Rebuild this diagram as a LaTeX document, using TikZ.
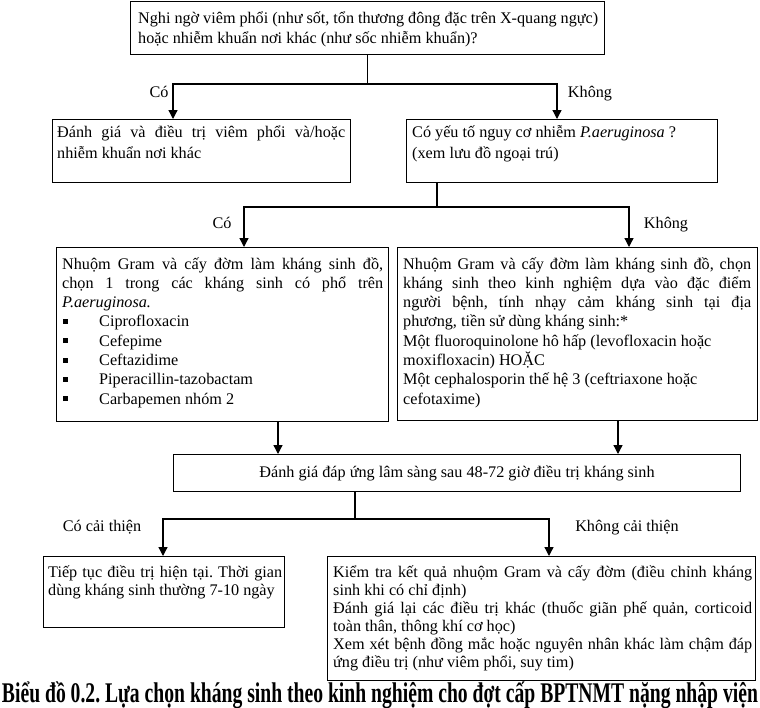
\documentclass[tikz,border=0pt]{standalone}
\usepackage{fontspec}
\setmainfont{Liberation Serif}
\usepackage{graphicx}
\usetikzlibrary{arrows.meta}
\frenchspacing
\newcommand{\jl}[1]{\makebox[\linewidth][s]{#1}}
\newcommand{\fs}[1]{\fontsize{16.2pt}{#1}\selectfont}
\newcommand{\bul}{\hspace*{1pt}\rule[3pt]{5pt}{5pt}\hspace*{31pt}}
\tikzset{
  box/.style={draw, line width=1.3pt, anchor=north west, inner sep=0pt},
  txt/.style={anchor=base west, inner sep=0pt},
  lbl/.style={anchor=base, inner sep=0pt, font=\fontsize{16.2pt}{18pt}\selectfont},
  arr/.style={line width=1.3pt, line join=miter, -{Triangle[width=9pt,length=9pt]}},
}
\begin{document}
\begin{tikzpicture}[x=1pt,y=1pt]
\fill[white] (0,0) rectangle (760,-707);
\useasboundingbox (0,0) rectangle (760,-707);

% ---------- boxes ----------
\node[box, minimum width=474pt, minimum height=53pt]  (b1) at (130,-1) {};
\node[box, minimum width=298pt, minimum height=63pt]  (l1) at (52,-119) {};
\node[box, minimum width=311pt, minimum height=63pt]  (r1) at (406,-119) {};
\node[box, minimum width=332pt, minimum height=174pt] (l2) at (56,-247) {};
\node[box, minimum width=360pt, minimum height=173pt] (r2) at (397,-247) {};
\node[box, minimum width=567pt, minimum height=37pt]  (b3) at (173,-454) {};
\node[box, minimum width=241pt, minimum height=71pt]  (l3) at (43,-556) {};
\node[box, minimum width=428pt, minimum height=124pt] (r3) at (327,-556) {};

% ---------- texts ----------
\node[txt] (t1) at (138,-23) {\parbox[t]{460pt}{\fs{20pt}%
\jl{Nghi ngờ viêm phổi (như sốt, tổn thương đông đặc trên X-quang ngực)}\\
hoặc nhiễm khuẩn nơi khác (như sốc nhiễm khuẩn)?}};

\node[txt] (tl1) at (57,-137) {\parbox[t]{288pt}{\fs{21pt}%
\jl{Đánh giá và điều trị viêm phổi và/hoặc}\\
nhiễm khuẩn nơi khác}};

\node[txt] (tr1) at (412,-137) {\parbox[t]{300pt}{\fs{21pt}%
Có yếu tố nguy cơ nhiễm \textit{P.aeruginosa} ?\\
(xem lưu đồ ngoại trú)}};

\node[txt] (tl2) at (62,-269) {\parbox[t]{321pt}{\fs{19.3pt}%
\jl{Nhuộm Gram và cấy đờm làm kháng sinh đồ,}\\
\jl{chọn 1 trong các kháng sinh có phổ trên}\\
\textit{P.aeruginosa.}\\
\bul Ciprofloxacin\\
\bul Cefepime\\
\bul Ceftazidime\\
\bul Piperacillin-tazobactam\\
\bul Carbapemen nhóm 2}};

\node[txt] (tr2) at (403,-269) {\parbox[t]{348pt}{\fs{19.3pt}%
\jl{Nhuộm Gram và cấy đờm làm kháng sinh đồ, chọn}\\
\jl{kháng sinh theo kinh nghiệm dựa vào đặc điểm}\\
\jl{người bệnh, tính nhạy cảm kháng sinh tại địa}\\
phương, tiền sử dùng kháng sinh:*\\
Một fluoroquinolone hô hấp (levofloxacin hoặc\\
moxifloxacin) HOẶC\\
Một cephalosporin thế hệ 3 (ceftriaxone hoặc\\
cefotaxime)}};

\node[lbl] (t3) at (457,-477) {Đánh giá đáp ứng lâm sàng sau 48-72 giờ điều trị kháng sinh};

\node[txt] (tl3) at (48,-577) {\parbox[t]{234pt}{\fs{18pt}%
\jl{Tiếp tục điều trị hiện tại. Thời gian}\\
dùng kháng sinh thường 7-10 ngày}};

\node[txt] (tr3) at (333,-577) {\parbox[t]{419pt}{\fs{18pt}%
\jl{Kiểm tra kết quả nhuộm Gram và cấy đờm (điều chỉnh kháng}\\
sinh khi có chỉ định)\\
\jl{Đánh giá lại các điều trị khác (thuốc giãn phế quản, corticoid}\\
toàn thân, thông khí cơ học)\\
\jl{Xem xét bệnh đồng mắc hoặc nguyên nhân khác làm chậm đáp}\\
ứng điều trị (như viêm phổi, suy tim)}};

% ---------- labels ----------
\node[lbl] (c1) at (159,-97) {Có};
\node[lbl] (k1) at (590,-97) {Không};
\node[lbl] (c2) at (222,-228) {Có};
\node[lbl] (k2) at (666,-228) {Không};
\node[lbl] (c3) at (102,-531) {Có cải thiện};
\node[lbl] (k3) at (627,-531) {Không cải thiện};

% ---------- connectors ----------
\coordinate (h1l) at (173,-84);
\coordinate (h1r) at (557,-84);
\draw[arr] (b1.south) |- (h1l) -- (l1.north -| h1l);
\draw[arr] (b1.south) |- (h1r) -- (r1.north -| h1r);

\coordinate (s2) at (437,0);
\coordinate (h2l) at (244,-207);
\coordinate (h2r) at (629,-207);
\draw[arr] (r1.south -| s2) |- (h2l) -- (l2.north -| h2l);
\draw[arr] (r1.south -| s2) |- (h2r) -- (r2.north -| h2r);

\coordinate (xa) at (278,0);
\coordinate (xb) at (618,0);
\draw[arr] (l2.south -| xa) -- (b3.north -| xa);
\draw[arr] (r2.south -| xb) -- (b3.north -| xb);

\coordinate (s4) at (355,0);
\coordinate (h4l) at (163,-519);
\coordinate (h4r) at (549,-519);
\draw[arr] (b3.south -| s4) |- (h4l) -- (l3.north -| h4l);
\draw[arr] (b3.south -| s4) |- (h4r) -- (r3.north -| h4r);

% ---------- caption ----------
\node[anchor=base, inner sep=0pt] (cap) at (380,-702) {\scalebox{1}[1.45]{\resizebox{756pt}{!}{\bfseries\fontsize{16pt}{16pt}\selectfont Biểu đồ 0.2. Lựa chọn kháng sinh theo kinh nghiệm cho đợt cấp BPTNMT nặng nhập viện}}};
\end{tikzpicture}
\end{document}
